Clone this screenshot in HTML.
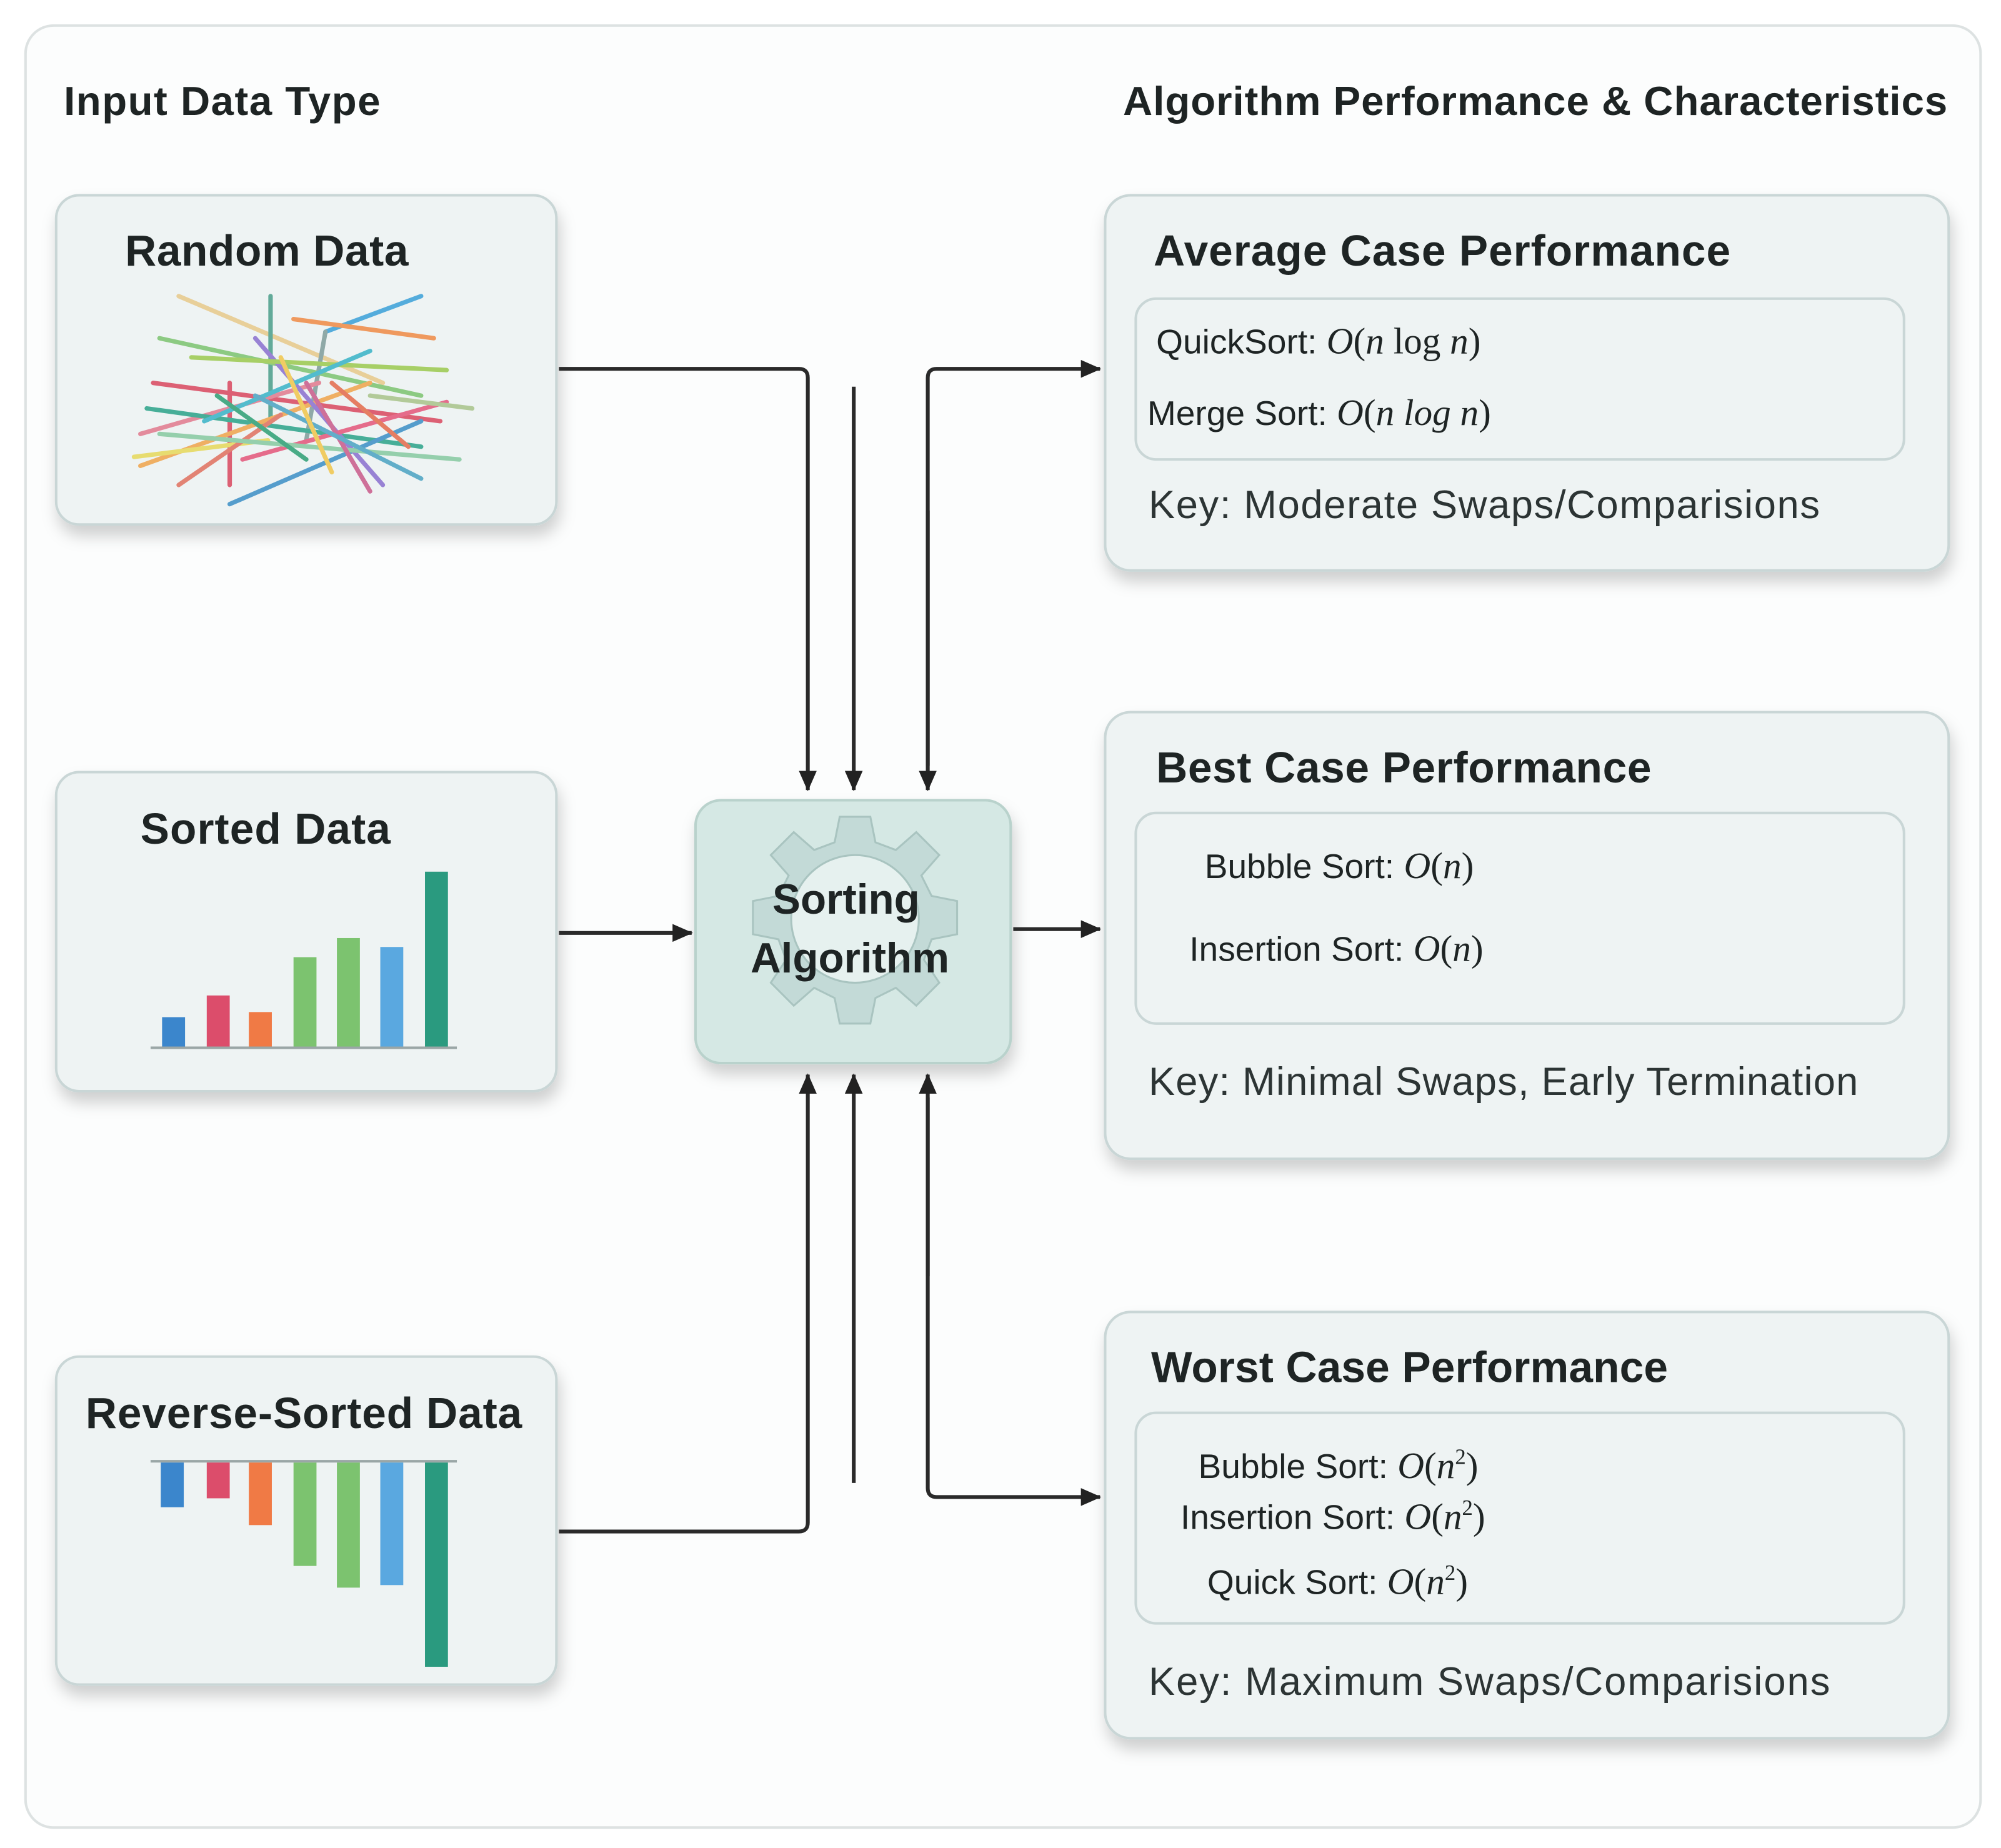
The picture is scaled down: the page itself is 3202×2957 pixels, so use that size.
<!DOCTYPE html>
<html><head><meta charset="utf-8"><style>
html,body{margin:0;padding:0;background:#fff;}
svg{display:block;}
text{font-family:"Liberation Sans",sans-serif;fill:#1e2424;}
.t{font-weight:bold;font-size:34px;}
.h{font-weight:bold;font-size:32px;}
.c{font-size:27px;}
.m{font-family:"Liberation Serif",serif;font-style:italic;font-size:29px;}
.s{font-family:"Liberation Serif",serif;font-size:17px;}
.k{font-size:31px;fill:#2c3434;}
</style></head><body>
<svg width="3202" height="2957" viewBox="0 0 1568 1448" xmlns="http://www.w3.org/2000/svg">
<defs>
<filter id="sh" x="-10%" y="-10%" width="130%" height="140%"><feDropShadow dx="2" dy="8" stdDeviation="6" flood-color="#000" flood-opacity="0.18"/></filter>
<marker id="a" markerWidth="16" markerHeight="14" refX="15" refY="7" orient="auto" markerUnits="userSpaceOnUse" viewBox="0 0 16 14"><path d="M0,0 L16,7 L0,14 z" fill="#222"/></marker>
</defs>
<rect x="0" y="0" width="1568" height="1448" fill="#fff"/>
<rect x="20" y="20" width="1532" height="1412" rx="22" fill="#fcfdfd" stroke="#dde2e2" stroke-width="2"/>
<text class="h" x="50" y="90" textLength="248">Input Data Type</text>
<text class="h" x="880" y="90" textLength="646">Algorithm Performance &amp; Characteristics</text>

<g filter="url(#sh)" fill="#eef3f3" stroke="#c9d6d6" stroke-width="2">
<rect x="44" y="153" width="392" height="258" rx="18"/>
<rect x="44" y="605" width="392" height="250" rx="18"/>
<rect x="44" y="1063" width="392" height="257" rx="18"/>
<rect x="866" y="153" width="661" height="294" rx="20"/>
<rect x="866" y="558" width="661" height="350" rx="20"/>
<rect x="866" y="1028" width="661" height="334" rx="20"/>
</g>
<text class="t" x="98" y="208" textLength="222">Random Data</text>
<text class="t" x="110" y="661" textLength="196">Sorted Data</text>
<text class="t" x="67" y="1119" textLength="342">Reverse-Sorted Data</text>

<g stroke-width="3.5" stroke-linecap="round" opacity="0.85">
<line x1="140" y1="232" x2="300" y2="300" stroke="#e8c98a"/>
<line x1="212" y1="232" x2="212" y2="330" stroke="#4a9e8a"/>
<line x1="255" y1="260" x2="330" y2="232" stroke="#3aa0d8"/>
<line x1="255" y1="260" x2="240" y2="345" stroke="#7f9d9a"/>
<line x1="125" y1="265" x2="330" y2="310" stroke="#7cc36f"/>
<line x1="120" y1="300" x2="345" y2="330" stroke="#d9475f"/>
<line x1="180" y1="300" x2="180" y2="380" stroke="#d9475f"/>
<line x1="110" y1="340" x2="250" y2="300" stroke="#e27a8e"/>
<line x1="115" y1="320" x2="330" y2="350" stroke="#2aa389"/>
<line x1="110" y1="365" x2="290" y2="300" stroke="#f0a44a"/>
<line x1="105" y1="358" x2="210" y2="345" stroke="#e6d85a"/>
<line x1="140" y1="380" x2="220" y2="325" stroke="#e0705f"/>
<line x1="180" y1="395" x2="330" y2="330" stroke="#3b8fc6"/>
<line x1="200" y1="265" x2="300" y2="380" stroke="#8a6fcf"/>
<line x1="150" y1="280" x2="350" y2="290" stroke="#9bc94e"/>
<line x1="230" y1="250" x2="340" y2="265" stroke="#f08a45"/>
<line x1="190" y1="360" x2="350" y2="315" stroke="#e4557a"/>
<line x1="125" y1="340" x2="360" y2="360" stroke="#86c9a0"/>
<line x1="160" y1="330" x2="290" y2="275" stroke="#37b3c7"/>
<line x1="240" y1="300" x2="290" y2="385" stroke="#c95a8a"/>
<line x1="200" y1="310" x2="330" y2="375" stroke="#4aa3c2"/>
<line x1="290" y1="310" x2="370" y2="320" stroke="#a8c48a"/>
<line x1="170" y1="310" x2="240" y2="360" stroke="#2d9f74"/>
<line x1="260" y1="300" x2="320" y2="350" stroke="#e46a4a"/>
<line x1="220" y1="280" x2="260" y2="370" stroke="#f1c64a"/>
</g>

<line x1="118" y1="821" x2="358" y2="821" stroke="#9aa6a6" stroke-width="2"/>
<rect x="127" y="797" width="18" height="23" fill="#3b86cc"/>
<rect x="162" y="780" width="18" height="40" fill="#dc4d6b"/>
<rect x="195" y="793" width="18" height="27" fill="#f07a45"/>
<rect x="230" y="750" width="18" height="70" fill="#7cc36f"/>
<rect x="264" y="735" width="18" height="85" fill="#7cc36f"/>
<rect x="298" y="742" width="18" height="78" fill="#5aa8e0"/>
<rect x="333" y="683" width="18" height="137" fill="#2a9a7f"/>
<line x1="118" y1="1145" x2="358" y2="1145" stroke="#9aa6a6" stroke-width="2"/>
<rect x="126" y="1146" width="18" height="35" fill="#3b86cc"/>
<rect x="162" y="1146" width="18" height="28" fill="#dc4d6b"/>
<rect x="195" y="1146" width="18" height="49" fill="#f07a45"/>
<rect x="230" y="1146" width="18" height="81" fill="#7cc36f"/>
<rect x="264" y="1146" width="18" height="98" fill="#7cc36f"/>
<rect x="298" y="1146" width="18" height="96" fill="#5aa8e0"/>
<rect x="333" y="1146" width="18" height="160" fill="#2a9a7f"/>

<rect x="545" y="627" width="247" height="206" rx="20" fill="#d5e8e4" stroke="#b9d2cc" stroke-width="2" filter="url(#sh)"/>
<g transform="translate(670,728)">
<path fill="#c3dad7" stroke="#a9c4c0" stroke-width="1.5" d="M-12,-88 L12,-88 L16,-68 L32,-62 L48,-76 L66,-58 L52,-42 L60,-26 L80,-22 L80,4 L60,8 L54,24 L66,42 L48,60 L32,46 L16,54 L12,74 L-12,74 L-16,54 L-32,46 L-48,60 L-66,42 L-54,24 L-60,8 L-80,4 L-80,-22 L-60,-26 L-52,-42 L-66,-58 L-48,-76 L-32,-62 L-16,-68 Z"/>
<circle cx="0" cy="-8" r="50" fill="#e6f1ef" stroke="#a9c4c0" stroke-width="1.5"/>
</g>
<text class="t" x="663" y="716" text-anchor="middle" style="font-size:33px">Sorting</text>
<text class="t" x="666" y="762" text-anchor="middle" style="font-size:33px">Algorithm</text>

<g fill="#eef3f3" stroke="#c9d6d6" stroke-width="2">
<rect x="890" y="234" width="602" height="126" rx="16"/>
<rect x="890" y="637" width="602" height="165" rx="16"/>
<rect x="890" y="1107" width="602" height="165" rx="16"/>
</g>
<text class="t" x="904" y="208" textLength="452">Average Case Performance</text>
<text class="t" x="906" y="613" textLength="388">Best Case Performance</text>
<text class="t" x="902" y="1083" textLength="405">Worst Case Performance</text>

<text class="c" x="906" y="277">QuickSort: <tspan class="m">O</tspan><tspan class="m" style="font-style:normal">(</tspan><tspan class="m">n</tspan><tspan class="m" style="font-style:normal"> log </tspan><tspan class="m">n</tspan><tspan class="m" style="font-style:normal">)</tspan></text>
<text class="c" x="899" y="333">Merge Sort: <tspan class="m">O</tspan><tspan class="m" style="font-style:normal">(</tspan><tspan class="m">n log n</tspan><tspan class="m" style="font-style:normal">)</tspan></text>
<text class="k" x="900" y="406" textLength="526">Key: Moderate Swaps/Comparisions</text>

<text class="c" x="944" y="688">Bubble Sort: <tspan class="m">O</tspan><tspan class="m" style="font-style:normal">(</tspan><tspan class="m">n</tspan><tspan class="m" style="font-style:normal">)</tspan></text>
<text class="c" x="932" y="753">Insertion Sort: <tspan class="m">O</tspan><tspan class="m" style="font-style:normal">(</tspan><tspan class="m">n</tspan><tspan class="m" style="font-style:normal">)</tspan></text>
<text class="k" x="900" y="858" textLength="556">Key: Minimal Swaps, Early Termination</text>

<text class="c" x="939" y="1158">Bubble Sort: <tspan class="m">O</tspan><tspan class="m" style="font-style:normal">(</tspan><tspan class="m">n</tspan><tspan class="s" dy="-11">2</tspan><tspan class="m" style="font-style:normal" dy="11">)</tspan></text>
<text class="c" x="925" y="1198">Insertion Sort: <tspan class="m">O</tspan><tspan class="m" style="font-style:normal">(</tspan><tspan class="m">n</tspan><tspan class="s" dy="-11">2</tspan><tspan class="m" style="font-style:normal" dy="11">)</tspan></text>
<text class="c" x="946" y="1249">Quick Sort: <tspan class="m">O</tspan><tspan class="m" style="font-style:normal">(</tspan><tspan class="m">n</tspan><tspan class="s" dy="-11">2</tspan><tspan class="m" style="font-style:normal" dy="11">)</tspan></text>
<text class="k" x="900" y="1328" textLength="534">Key: Maximum Swaps/Comparisions</text>

<g fill="none" stroke="#2a2a2a" stroke-width="3">
<path d="M438,289 H626 Q633,289 633,296 V619" marker-end="url(#a)"/>
<path d="M669,303 V619" marker-end="url(#a)"/>
<path d="M727,600 V296 Q727,289 734,289 H862" marker-end="url(#a)"/>
<path d="M727,400 V619" marker-end="url(#a)"/>
<path d="M438,731 H542" marker-end="url(#a)"/>
<path d="M794,728 H862" marker-end="url(#a)"/>
<path d="M438,1200 H626 Q633,1200 633,1193 V842" marker-end="url(#a)"/>
<path d="M669,1162 V842" marker-end="url(#a)"/>
<path d="M727,1000 V842" marker-end="url(#a)"/>
<path d="M727,860 V1166 Q727,1173 734,1173 H862" marker-end="url(#a)"/>
</g>
</svg>
</body></html>
